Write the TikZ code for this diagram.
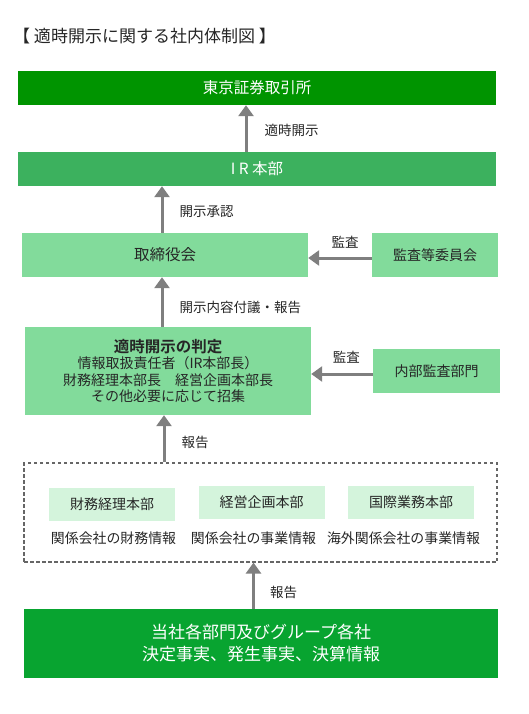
\documentclass[tikz,border=0pt]{standalone}
\usepackage{fontspec}
\setmainfont{Noto Sans CJK JP}[BoldFont={Noto Sans CJK JP Bold}]
\usepackage{tikz}
\usetikzlibrary{arrows.meta, positioning}
\definecolor{tsegreen}{HTML}{009400}
\definecolor{irgreen}{HTML}{3CB15E}
\definecolor{boxgreen}{HTML}{82DB9B}
\definecolor{palegreen}{HTML}{D4F4DC}
\definecolor{basegreen}{HTML}{08A430}
\definecolor{arrowgray}{HTML}{7F7F7F}

\begin{document}
\begin{tikzpicture}[x=1pt, y=-1pt,
    box/.style={rectangle, inner sep=0pt, align=center, text=black!85,
                font=\fontsize{14}{16.5}\selectfont},
    band/.style={box, text=white, minimum width=478pt, minimum height=34pt,
                 font=\fontsize{15.5}{18}\selectfont},
    sub/.style={box, fill=palegreen, minimum width=126pt, minimum height=33pt},
    rel/.style={-{Triangle[length=11pt, width=15pt]}, line width=3pt, color=arrowgray},
    lbl/.style={font=\fontsize{13.5}{16}\selectfont, text=black!85, inner sep=0pt},
]
\useasboundingbox (0,0) rectangle (528,714);

% title
\node[lbl, anchor=west, font=\fontsize{17}{20}\selectfont] (title) at (13,36) {【 適時開示に関する社内体制図 】};

% Row 1: exchange and IR department
\node[band, fill=tsegreen] (tse) at (257,88) {東京証券取引所};
\node[band, fill=irgreen] (irdept) at (257,169) {I R 本部};

% Row 2: board and audit committee
\node[box, fill=boxgreen, minimum width=286pt, minimum height=44pt, font=\fontsize{15.5}{18}\selectfont] (board) at (165,255) {取締役会};
\node[box, fill=boxgreen, minimum width=126pt, minimum height=44pt] (auditcom) at (435,255) {監査等委員会};

% Row 3: judgement meeting and internal audit
\node[box, fill=boxgreen, minimum width=286pt, minimum height=88pt] (judge) at (168,371)
    {{\fontsize{15.5}{16.5}\selectfont\bfseries 適時開示の判定}\\情報取扱責任者（IR本部長）\\財務経理本部長　経営企画本部長\\その他必要に応じて招集};
\node[box, fill=boxgreen, minimum width=127pt, minimum height=44pt] (intaudit) at (436.5,371) {内部監査部門};

% Row 4: dashed group of head offices
\node[rectangle, draw=black!60, line width=1.2pt, dash pattern=on 3.5pt off 2.5pt,
      minimum width=473pt, minimum height=99pt] (hq) at (260.5,512.5) {};
\node[sub] (finance) at (112,504) {財務経理本部};
\node[sub] (planning) at (261.5,502.5) {経営企画本部};
\node[sub] (intl) at (411,502.5) {国際業務本部};
\node[lbl, font=\fontsize{13.9}{16}\selectfont] (fininfo) at (113.5,538) {関係会社の財務情報};
\node[lbl, font=\fontsize{13.9}{16}\selectfont] (bizinfo) at (253.5,538) {関係会社の事業情報};
\node[lbl, font=\fontsize{13.9}{16}\selectfont] (ovsinfo) at (403.5,538) {海外関係会社の事業情報};

% Row 5: all departments and group companies
\node[box, fill=basegreen, text=white, minimum width=474pt, minimum height=69pt,
      font=\fontsize{17}{22}\selectfont] (depts) at (261,643.5)
    {当社各部門及びグループ各社\\決定事実、発生事実、決算情報};

% arrows upward
\draw[rel] ([xshift=-11pt]irdept.north) -- node[lbl, right=17pt, pos=0.47] {適時開示} ([xshift=-11pt]tse.south);
\draw[rel] ([xshift=-3pt]board.north) -- node[lbl, right=16pt, pos=0.45] {開示承認} ([xshift=-3pt]board.north |- irdept.south);
\draw[rel] ([xshift=-6pt]judge.north) -- node[lbl, right=16pt, pos=0.4] {開示内容付議・報告} ([xshift=-6pt]judge.north |- board.south);
\draw[rel] ([xshift=-4pt]judge.south |- hq.north) -- node[lbl, right=16pt, pos=0.42] {報告} ([xshift=-4pt]judge.south);
\draw[rel] (depts.north -| bizinfo) -- node[lbl, right=15pt, pos=0.35] {報告} (hq.south -| bizinfo);

% audit arrows
\draw[rel] ([yshift=-3pt]auditcom.west) -- node[lbl, above=8pt, pos=0.42] {監査} ([yshift=-3pt]board.east);
\draw[rel] ([yshift=-3pt]intaudit.west) -- node[lbl, above=9pt, pos=0.43] {監査} ([yshift=-3pt]judge.east);

\end{tikzpicture}
\end{document}
